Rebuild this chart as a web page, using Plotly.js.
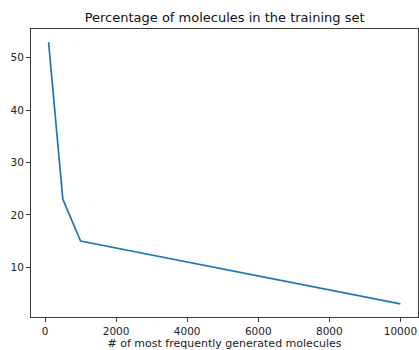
<!DOCTYPE html>
<html>
<head>
<meta charset="utf-8">
<script src="https://cdn.plot.ly/plotly-3.0.1.min.js"></script>
<style>html,body{margin:0;padding:0;background:#fff;}#chart{width:419px;height:350px;}</style>
</head>
<body>
<div id="chart"></div>
<script>
const topN = [100, 500, 1000, 10000];
const pctInTraining = [53, 23, 15, 3];
const xTicks = [0, 2000, 4000, 6000, 8000, 10000];
const yTicks = [10, 20, 30, 40, 50];
const chartTitle = "Percentage of molecules in the training set";
const xLabel = "# of most frequently generated molecules";

function padRange(a) {
  const lo = Math.min(...a), hi = Math.max(...a), m = (hi - lo) * 0.05;
  return [lo - m, hi + m];
}

const axisCommon = {
  showline: true, mirror: true, linecolor: '#3a3a3a', linewidth: 1,
  ticks: 'outside', ticklen: 4, tickwidth: 1, tickcolor: '#3a3a3a',
  showgrid: false, zeroline: false,
  tickfont: {family: 'DejaVu Sans', size: 10.5, color: '#222'}
};

Plotly.newPlot('chart', [{
  x: topN, y: pctInTraining, type: 'scatter', mode: 'lines',
  line: {color: '#1f77b4', width: 1.7}, hoverinfo: 'skip'
}], {
  width: 419, height: 350,
  margin: {l: 31, r: 1, t: 29, b: 33},
  paper_bgcolor: '#fff', plot_bgcolor: '#fff',
  showlegend: false,
  title: {text: chartTitle, x: 0.536, xanchor: 'center', y: 0.951, yanchor: 'middle',
          font: {family: 'DejaVu Sans', size: 13, color: '#111'}},
  xaxis: Object.assign({}, axisCommon, {
    range: padRange(topN), tickvals: xTicks, ticktext: xTicks.map(String),
    title: {text: xLabel, standoff: 1, font: {family: 'DejaVu Sans', size: 11, color: '#222'}},
    automargin: false
  }),
  yaxis: Object.assign({}, axisCommon, {
    range: padRange(pctInTraining), tickvals: yTicks, ticktext: yTicks.map(String),
    automargin: false
  })
}, {staticPlot: true, displayModeBar: false});
</script>
</body>
</html>
